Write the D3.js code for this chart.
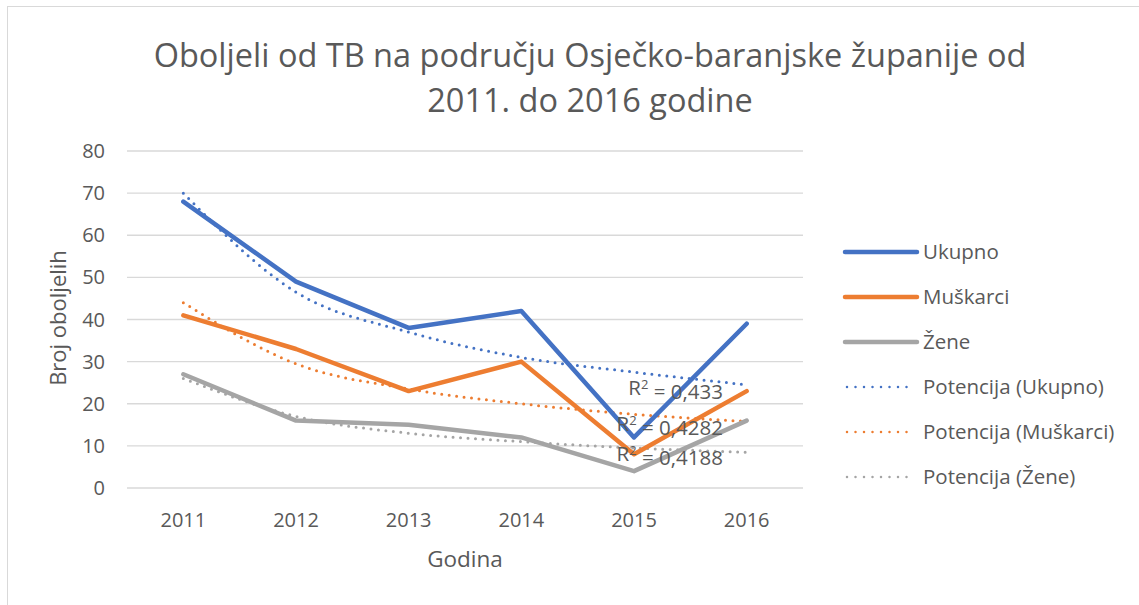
<!DOCTYPE html>
<html>
<head>
<meta charset="utf-8">
<script src="https://cdn.jsdelivr.net/npm/d3@7"></script>
<style>
  body { margin: 0; background: #fff; }
  text { font-family: "Open Sans", "Noto Sans", sans-serif; fill: #595959; }
</style>
</head>
<body>
<div id="chart"></div>
<script>
const width = 1139, height = 605;
const margin = { top: 151, left: 127, right: 336, bottom: 117 };

const years = ["2011", "2012", "2013", "2014", "2015", "2016"];
const ukupno = [68, 49, 38, 42, 12, 39];
const muskarci = [41, 33, 23, 30, 8, 23];
const zene = [27, 16, 15, 12, 4, 16];
// trend lines (power fit)
const trendUkupno = [70, 46.5, 37, 31, 27.5, 24.5];
const trendMuskarci = [44, 29.5, 23.5, 20, 17.5, 15.8];
const trendZene = [26, 17, 13, 11, 9.5, 8.5];
const rSquared = ["0,433", "0,4282", "0,4188"];
const yTicks = [0, 10, 20, 30, 40, 50, 60, 70, 80];

const series = [
  { name: "Ukupno", values: ukupno, color: "#4472C4", trend: false },
  { name: "Muškarci", values: muskarci, color: "#ED7D31", trend: false },
  { name: "Žene", values: zene, color: "#A5A5A5", trend: false },
  { name: "Potencija (Ukupno)", values: trendUkupno, color: "#4472C4", trend: true },
  { name: "Potencija (Muškarci)", values: trendMuskarci, color: "#ED7D31", trend: true },
  { name: "Potencija (Žene)", values: trendZene, color: "#A5A5A5", trend: true }
];

const svg = d3.select("#chart").append("svg")
  .attr("width", width)
  .attr("height", height);

// chart area border
svg.append("rect")
  .attr("x", 7.5).attr("y", 6.5)
  .attr("width", width + 20).attr("height", height + 20)
  .attr("fill", "#fff")
  .attr("stroke", "#d9d9d9")
  .attr("stroke-width", 1);

const x = d3.scalePoint()
  .domain(years)
  .range([margin.left, width - margin.right])
  .padding(0.5);

const y = d3.scaleLinear()
  .domain([0, 80])
  .range([height - margin.bottom, margin.top]);

// gridlines
svg.append("g")
  .selectAll("line")
  .data(yTicks)
  .join("line")
  .attr("x1", margin.left)
  .attr("x2", width - margin.right)
  .attr("y1", d => y(d))
  .attr("y2", d => y(d))
  .attr("stroke", "#d9d9d9")
  .attr("stroke-width", 1.3);

// y tick labels
svg.append("g")
  .selectAll("text")
  .data(yTicks)
  .join("text")
  .attr("x", 105)
  .attr("y", d => y(d))
  .attr("dy", "0.35em")
  .attr("text-anchor", "end")
  .attr("font-size", 20)
  .text(d => d);

// x tick labels
svg.append("g")
  .selectAll("text")
  .data(years)
  .join("text")
  .attr("x", d => x(d))
  .attr("y", 527)
  .attr("text-anchor", "middle")
  .attr("font-size", 20)
  .text(d => d);

// axis titles
svg.append("text")
  .attr("x", 465)
  .attr("y", 567)
  .attr("text-anchor", "middle")
  .attr("font-size", 22.5)
  .text("Godina");

svg.append("text")
  .attr("transform", `translate(${66}, ${318})rotate(-90)`)
  .attr("text-anchor", "middle")
  .attr("font-size", 22)
  .text("Broj  oboljelih");

// title
svg.append("text")
  .attr("x", 590)
  .attr("y", 67)
  .attr("text-anchor", "middle")
  .attr("font-size", 32.5)
  .text("Oboljeli od TB na području  Osječko-baranjske županije od");

svg.append("text")
  .attr("x", 590)
  .attr("y", 112)
  .attr("text-anchor", "middle")
  .attr("font-size", 32.5)
  .text("2011. do 2016 godine");

const line = d3.line()
  .x((d, i) => x(years[i]))
  .y(d => y(d));

const trendLine = d3.line()
  .curve(d3.curveMonotoneX)
  .x((d, i) => x(years[i]))
  .y(d => y(d));

// trend lines first, then data lines
svg.selectAll("path.trend")
  .data(series.filter(s => s.trend))
  .join("path")
  .attr("class", "trend")
  .attr("fill", "none")
  .attr("stroke", d => d.color)
  .attr("stroke-width", 3)
  .attr("stroke-linecap", "round")
  .attr("stroke-dasharray", "0,7.5")
  .attr("d", d => trendLine(d.values));

svg.selectAll("path.line")
  .data(series.filter(s => !s.trend))
  .join("path")
  .attr("class", "line")
  .attr("fill", "none")
  .attr("stroke", d => d.color)
  .attr("stroke-width", 4.5)
  .attr("stroke-linejoin", "round")
  .attr("stroke-linecap", "round")
  .attr("d", d => line(d.values));

// R² labels
const rY = [388, 424, 454];
const rLabels = svg.append("g")
  .selectAll("text")
  .data(rSquared)
  .join("text")
  .attr("x", 723)
  .attr("y", (d, i) => rY[i])
  .attr("dy", "0.35em")
  .attr("text-anchor", "end")
  .attr("font-size", 20.5);
rLabels.append("tspan").text("R");
rLabels.append("tspan").attr("dy", "-0.45em").attr("font-size", 13).text("2");
rLabels.append("tspan").attr("dy", "0.45em").text(d => " = " + d);

// legend
const legend = svg.append("g")
  .selectAll("g")
  .data(series)
  .join("g")
  .attr("transform", (d, i) => `translate(${845}, ${252 + i * 45})`);

legend.append("line")
  .attr("x1", d => d.trend ? 2 : 0)
  .attr("x2", d => d.trend ? 70 : 72)
  .attr("stroke", d => d.color)
  .attr("stroke-width", d => d.trend ? 2.5 : 4.5)
  .attr("stroke-linecap", "round")
  .attr("stroke-dasharray", d => d.trend ? "0,8.5" : null);

legend.append("text")
  .attr("x", 78)
  .attr("dy", "0.35em")
  .attr("font-size", 20.5)
  .text(d => d.name);
</script>
</body>
</html>
